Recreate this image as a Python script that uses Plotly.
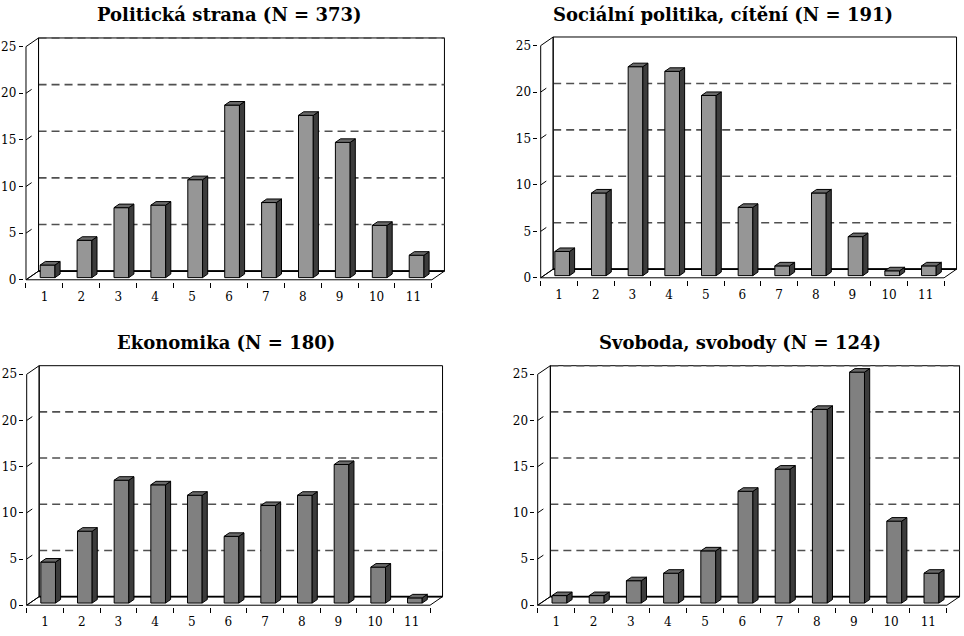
import plotly.graph_objects as go

categories = list(range(1, 11 + 1))
titles = [
    "Politická strana (N = 373)",
    "Sociální politika, cítění (N = 191)",
    "Ekonomika (N = 180)",
    "Svoboda, svobody (N = 124)",
]
politicka_strana = [1.35, 4.0, 7.5, 7.77, 10.5, 18.5, 8.05, 17.4, 14.5, 5.6, 2.4]
socialni_politika = [2.6, 8.9, 22.5, 22.0, 19.4, 7.35, 1.05, 8.9, 4.2, 0.52, 1.05]
ekonomika = [4.44, 7.78, 13.3, 12.8, 11.67, 7.22, 10.56, 11.67, 15.0, 3.89, 0.56]
svoboda = [0.81, 0.81, 2.42, 3.23, 5.65, 12.1, 14.5, 20.97, 25.0, 8.87, 3.23]
series = [politicka_strana, socialni_politika, ekonomika, svoboda]
y_ticks = [0, 5, 10, 15, 20, 25]
grid_vals = [[5, 10, 15, 20, 25], [5, 10, 15, 20], [5, 10, 15, 20], [5, 10, 15, 20, 25]]

front_colors = ["#969696", "#969696", "#808080", "#808080"]
side_color = "#3c3c3c"
top_color = "#6a6a6a"

W, H = 964, 636
# pixel geometry of each panel: front axis x, px per category, y of value 0, px per unit
panels = [
    dict(x0=26.0, cat=36.9, y0=282.0, unit=9.4, tx=229, ty=15),
    dict(x0=540.7, cat=36.67, y0=280.0, unit=9.36, tx=723, ty=15),
    dict(x0=26.7, cat=36.67, y0=610.0, unit=9.31, tx=226, ty=345),
    dict(x0=537.7, cat=37.2, y0=610.0, unit=9.31, tx=740, ty=345),
]
DX, DY = 0.34, 0.93          # wall depth in category / value units
F0, F1 = 0.25, 0.66          # bar front / back depth fraction
BW = 0.40                    # bar width in categories
YMAX = 25
FONT = "DejaVu Serif"

fig = go.Figure()
shapes = []
annotations = []
n = len(categories)

for i, (vals, p) in enumerate(zip(series, panels)):
    k = "" if i == 0 else str(i + 1)
    xa, ya = "x" + k, "y" + k
    xr = [0.5 - 0.06, n + 0.5 + DX + 0.05]
    yr = [-0.2, YMAX + DY + 0.15]
    dl = (p["x0"] + (xr[0] - 0.5) * p["cat"]) / W
    dr = (p["x0"] + (xr[1] - 0.5) * p["cat"]) / W
    db = 1 - (p["y0"] - yr[0] * p["unit"]) / H
    dt = 1 - (p["y0"] - yr[1] * p["unit"]) / H
    fig.layout["xaxis" + k] = dict(
        domain=[dl, dr], range=xr, anchor=ya, showgrid=False, zeroline=False,
        showline=False, tickvals=categories, ticktext=[str(c) for c in categories],
        ticks="", ticklabelstandoff=6,
        tickfont=dict(family=FONT, size=12, color="black"),
        minor=dict(tickvals=[c - 0.5 for c in categories] + [n + 0.5], ticks="outside",
                   ticklen=5, tickcolor="black", tickwidth=1, showgrid=False),
        fixedrange=True,
    )
    fig.layout["yaxis" + k] = dict(
        domain=[db, dt], range=yr, anchor=xa, showgrid=False, zeroline=False,
        showline=False, tickvals=y_ticks, ticks="outside", ticklen=4, tickcolor="black",
        tickfont=dict(family=FONT, size=12, color="black"), fixedrange=True,
    )
    L, R = 0.5, n + 0.5
    line_k = dict(color="black", width=1)
    common = dict(xref=xa, yref=ya, layer="below")
    # back wall
    shapes.append(dict(type="path",
                       path=f"M{L+DX},{DY} L{R+DX},{DY} L{R+DX},{YMAX+DY} L{L+DX},{YMAX+DY} Z",
                       line=line_k, **common))
    # gridlines on back wall
    for g in grid_vals[i]:
        shapes.append(dict(type="line", x0=L + DX, x1=R + DX, y0=g + DY, y1=g + DY,
                           line=dict(color="#505050", width=1.6, dash="8px,5px"), **common))
    # floor
    shapes.append(dict(type="path",
                       path=f"M{L},0 L{R},0 L{R+DX},{DY} L{L+DX},{DY} Z",
                       line=line_k, **common))
    # left wall
    shapes.append(dict(type="path",
                       path=f"M{L},0 L{L+DX},{DY} L{L+DX},{YMAX+DY} L{L},{YMAX} Z",
                       line=line_k, **common))
    # back floor edge heavier
    shapes.append(dict(type="line", x0=L + DX, x1=R + DX, y0=DY, y1=DY,
                       line=dict(color="black", width=1.6), **common))
    # inward diagonal ticks on the value axis
    for t in y_ticks[1:-1]:
        shapes.append(dict(type="line", x0=L, y0=t, x1=L + 0.45 * DX, y1=t + 0.45 * DY,
                           line=line_k, **common))

    # bars: front faces
    bx = [c + F0 * DX for c in categories]
    fig.add_trace(go.Bar(
        x=bx, y=vals, base=[F0 * DY] * n, width=BW, xaxis=xa, yaxis=ya,
        marker=dict(color=front_colors[i], line=dict(color="black", width=1)),
        showlegend=False, hoverinfo="skip",
    ))
    ddx, ddy = (F1 - F0) * DX, (F1 - F0) * DY
    sx, sy, tx_, ty_ = [], [], [], []
    for c, v in zip(bx, vals):
        xl, xrt = c - BW / 2, c + BW / 2
        b = F0 * DY
        sx += [xrt, xrt, xrt + ddx, xrt + ddx, xrt, None]
        sy += [b, b + v, b + v + ddy, b + ddy, b, None]
        tx_ += [xl, xrt, xrt + ddx, xl + ddx, xl, None]
        ty_ += [b + v, b + v, b + v + ddy, b + v + ddy, b + v, None]
    fig.add_trace(go.Scatter(x=sx, y=sy, mode="lines", fill="toself", fillcolor=side_color,
                             line=dict(color="black", width=1), xaxis=xa, yaxis=ya,
                             showlegend=False, hoverinfo="skip"))
    fig.add_trace(go.Scatter(x=tx_, y=ty_, mode="lines", fill="toself", fillcolor=top_color,
                             line=dict(color="black", width=1), xaxis=xa, yaxis=ya,
                             showlegend=False, hoverinfo="skip"))

    annotations.append(dict(text=f"<b>{titles[i]}</b>", x=p["tx"] / W, y=1 - p["ty"] / H,
                            xref="paper", yref="paper", showarrow=False,
                            xanchor="center", yanchor="middle",
                            font=dict(family=FONT, size=18, color="black")))

fig.update_layout(
    width=W, height=H, margin=dict(l=0, r=0, t=0, b=0),
    paper_bgcolor="white", plot_bgcolor="white",
    shapes=shapes, annotations=annotations, showlegend=False, barmode="overlay",
)
fig.write_html("out.html", config={"displayModeBar": False},
               post_script="document.body.style.margin='0px';")
